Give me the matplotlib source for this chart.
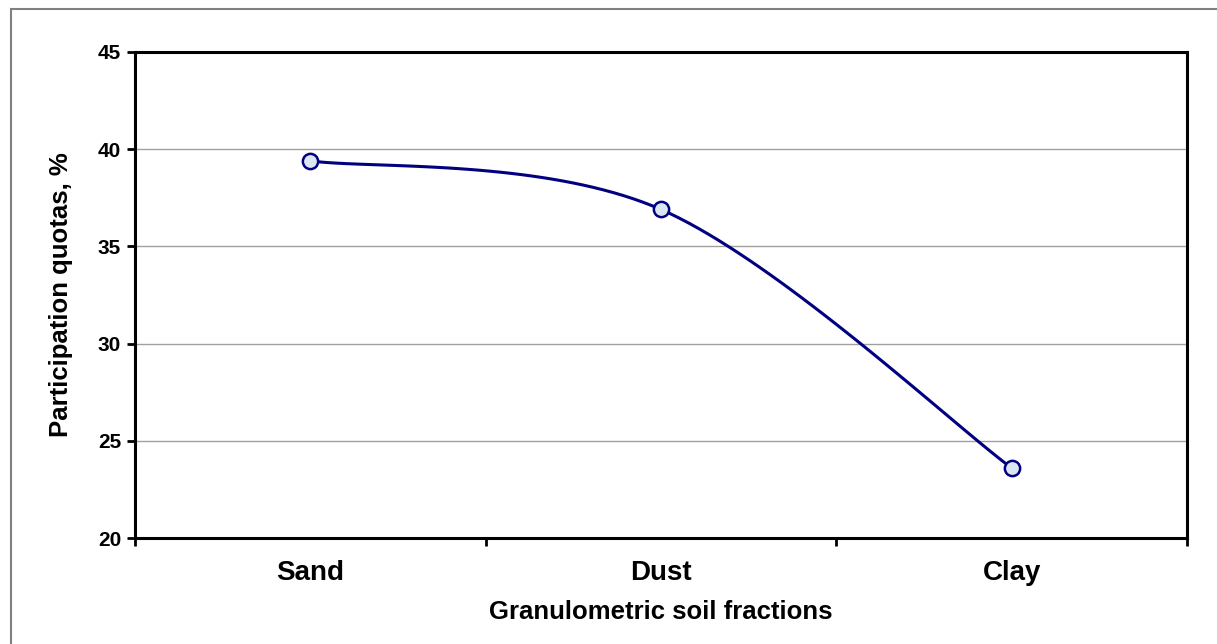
import matplotlib
matplotlib.use('agg')
import matplotlib.pyplot as plt
import numpy as np
from matplotlib.patches import Rectangle

# data
categories = ["Sand", "Dust", "Clay"]
quotas = [39.4, 36.9, 23.6]
y_ticks = [20, 25, 30, 35, 40, 45]


def smooth_line(xs, ys, steps=40):
    """ excel style smoothed line: bezier segments through every point """
    pts = np.column_stack([xs, ys]).astype(float)
    ext = np.vstack([pts[0], pts, pts[-1]])
    out = []
    t = np.linspace(0, 1, steps)[:, None]
    for i in range(1, len(ext) - 2):
        p0, p1, p2, p3 = ext[i - 1], ext[i], ext[i + 1], ext[i + 2]
        c1 = p1 + (p2 - p0) / 6.0
        c2 = p2 - (p3 - p1) / 6.0
        seg = ((1 - t) ** 3) * p1 + 3 * ((1 - t) ** 2) * t * c1 \
            + 3 * (1 - t) * t ** 2 * c2 + t ** 3 * p2
        out.append(seg)
    curve = np.vstack(out)
    return curve[:, 0], curve[:, 1]


plt.rcParams['font.family'] = ['Liberation Sans', 'DejaVu Sans']
plt.rcParams['font.weight'] = 'bold'

fig = plt.figure(figsize=(12.17, 6.44), dpi=100)
ax = fig.add_axes([135 / 1217, 1 - 538 / 644, (1187 - 135) / 1217, (538 - 52) / 644])

# outer chart frame (cut off at the right and bottom like the source)
fig.patches.append(Rectangle((11 / 1217, -0.1), 1.2, 1 - 9 / 644 + 0.1,
                             transform=fig.transFigure, fill=False,
                             edgecolor='#808080', linewidth=1.5))

xpos = np.arange(len(categories))
sx, sy = smooth_line(xpos, quotas)
ax.plot(sx, sy, color='#000080', linewidth=2.2, zorder=3)
ax.plot(xpos, quotas, linestyle='none', marker='o', markersize=11,
        markerfacecolor='#dce6f2', markeredgecolor='#000080',
        markeredgewidth=1.8, zorder=4)

ax.set_xlim(-0.5, len(categories) - 0.5)
ax.set_ylim(20, 45)
ax.set_yticks(y_ticks)
ax.set_yticklabels([str(v) for v in y_ticks], fontsize=15, fontweight='bold')
ax.set_xticks(np.arange(-0.5, len(categories), 1.0))
ax.set_xticklabels([])
ax.set_xticks(xpos, minor=True)
ax.set_xticklabels(categories, minor=True, fontsize=20, fontweight='bold')
ax.tick_params(axis='x', which='minor', length=0, pad=16)
ax.tick_params(axis='x', which='major', direction='out', length=6, width=2)
ax.tick_params(axis='y', direction='out', length=6, width=2, pad=4)

ax.grid(axis='y', color='#a0a0a0', linewidth=1.0)
ax.set_axisbelow(True)
for sp in ax.spines.values():
    sp.set_linewidth(2.2)
    sp.set_color('black')

ax.set_xlabel("Granulometric soil fractions", fontsize=18.5, fontweight='bold')
ax.set_ylabel("Participation quotas, %", fontsize=18.5, fontweight='bold')
ax.xaxis.set_label_coords(0.5, -(612 - 538) / 486)
ax.xaxis.label.set_va('center')
ax.yaxis.set_label_coords(-(135 - 61) / 1052, 0.5)
ax.yaxis.label.set_va('center')

plt.savefig("out.png", dpi=100)
